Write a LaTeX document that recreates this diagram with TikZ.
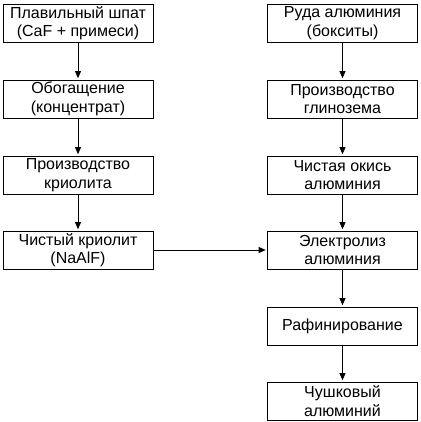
\documentclass[tikz,border=0pt]{standalone}
\usepackage{fontspec}
\setmainfont{Liberation Sans}
\usetikzlibrary{arrows.meta}

\begin{document}
\begin{tikzpicture}[x=1pt, y=-1pt, line width=0.7pt,
  stage/.style={draw, minimum width=150pt, minimum height=38pt, align=center,
    inner sep=1pt, font=\fontsize{16}{18.5}\selectfont},
  flow/.style={-{Triangle[width=6pt,length=7pt]}, shorten >=1.5pt}]
  \useasboundingbox (0,0) rectangle (420,422);
  % fluorspar branch
  \node[stage] (spar) at (78,23) {Плавильный шпат\\(CaF + примеси)};
  \node[stage] (conc) at (78,99) {Обогащение\\(концентрат)};
  \node[stage] (cryo) at (78,175) {Производство\\криолита};
  \node[stage] (pure cryo) at (78,250) {Чистый криолит\\(NaAlF)};
  % ore branch
  \node[stage] (ore) at (342.5,23) {Руда алюминия\\(бокситы)};
  \node[stage] (alumina) at (342.5,99) {Производство\\глинозема};
  \node[stage] (oxide) at (342.5,175) {Чистая окись\\алюминия};
  \node[stage] (electro) at (342.5,250) {Электролиз\\алюминия};
  \node[stage] (refine) at (342.5,326) {Рафинирование};
  \node[stage] (ingot) at (342.5,401) {Чушковый\\алюминий};
  % arrows
  \foreach \a/\b in {spar/conc, conc/cryo, cryo/pure cryo, ore/alumina,
    alumina/oxide, oxide/electro, electro/refine, refine/ingot}
    \draw[flow] (\a) -- (\b);
  \draw[flow] (pure cryo) -- (electro);
\end{tikzpicture}
\end{document}
